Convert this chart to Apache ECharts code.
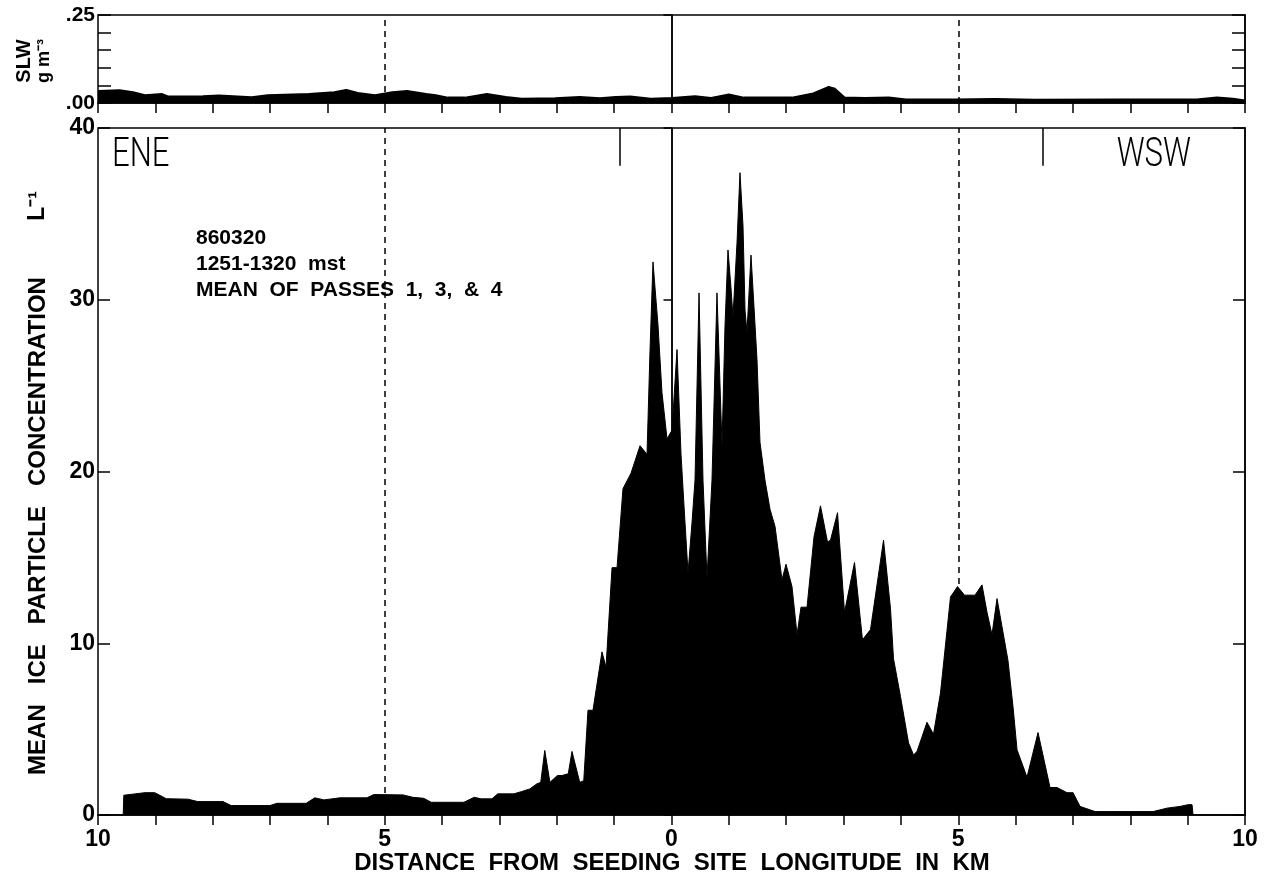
<!DOCTYPE html>
<html>
<head>
<meta charset="utf-8">
<script src="https://cdn.jsdelivr.net/npm/echarts@6/dist/echarts.min.js"></script>
<style>
  html, body { margin: 0; padding: 0; background: #fff; }
  #chart { width: 1266px; height: 880px; }
</style>
</head>
<body>
<div id="chart"></div>
<script>
// Distance from the seeding site (km, negative = ENE side) and mean ice particle concentration (per litre)
const iceKm = [-10, -9.56, -9.55, -9.18, -9.01, -8.81, -8.43, -8.26, -7.82, -7.68, -7.00, -6.88, -6.37, -6.22,
  -6.06, -5.78, -5.31, -5.19, -4.68, -4.51, -4.32, -4.19, -3.62, -3.44, -3.32, -3.13, -3.03, -2.75, -2.62,
  -2.47, -2.35, -2.28, -2.21, -2.12, -1.99, -1.91, -1.80, -1.735, -1.60, -1.53, -1.456, -1.369, -1.212,
  -1.142, -1.037, -0.950, -0.846, -0.706, -0.549, -0.427, -0.375, -0.323, -0.235, -0.166, -0.078, 0.009,
  0.096, 0.166, 0.218, 0.288, 0.357, 0.410, 0.480, 0.549, 0.619, 0.706, 0.793, 0.881, 0.933, 0.985, 1.037,
  1.072, 1.142, 1.194, 1.247, 1.282, 1.316, 1.386, 1.438, 1.491, 1.543, 1.630, 1.718, 1.805, 1.927, 1.997,
  2.101, 2.189, 2.258, 2.363, 2.485, 2.598, 2.720, 2.772, 2.895, 3.017, 3.191, 3.330, 3.470, 3.697, 3.819,
  3.871, 3.993, 4.133, 4.220, 4.281, 4.455, 4.568, 4.690, 4.865, 4.987, 5.109, 5.292, 5.414, 5.502, 5.588,
  5.676, 5.867, 5.955, 6.025, 6.199, 6.391, 6.600, 6.722, 6.897, 7.002, 7.124, 7.385, 7.647, 7.995, 8.397,
  8.641, 8.867, 9.007, 9.077, 9.094, 10];
const iceConc = [0, 0, 1.15, 1.3, 1.3, 0.95, 0.92, 0.78, 0.78, 0.55, 0.55, 0.68, 0.68, 1.0,
  0.88, 1.0, 1.0, 1.19, 1.17, 1.03, 0.97, 0.74, 0.74, 1.03, 0.94, 0.94, 1.23, 1.23, 1.36,
  1.52, 1.81, 1.9, 3.76, 1.9, 2.3, 2.3, 2.4, 3.7, 1.9, 2.0, 6.1, 6.1, 9.5,
  8.6, 14.4, 14.4, 19.0, 19.9, 21.5, 21.0, 27.0, 32.2, 28.5, 24.6, 21.9, 22.4,
  27.1, 21.0, 18.0, 14.1, 17.0, 19.5, 30.4, 19.5, 13.8, 19.5, 30.4, 21.5, 28.5, 32.9, 30.7,
  29.0, 33.3, 37.4, 34.3, 29.4, 28.1, 32.6, 29.6, 26.5, 21.7, 19.5, 17.8, 16.8, 13.7, 14.6,
  13.3, 10.5, 12.1, 12.1, 16.2, 18.0, 15.9, 16.0, 17.6, 11.8, 14.7, 10.2, 10.8, 16.0, 12.0,
  9.1, 6.9, 4.2, 3.5, 3.7, 5.4, 4.7, 7.1, 12.7, 13.3, 12.8, 12.8, 13.4, 11.8, 10.5,
  12.6, 9.0, 6.3, 3.8, 2.2, 4.8, 1.6, 1.6, 1.3, 1.3, 0.5, 0.2, 0.2, 0.2, 0.2,
  0.4, 0.5, 0.6, 0.6, 0, 0];

// Supercooled liquid water content (g m-3) along the same track
const slwKm = [-10.0, -9.62, -9.39, -9.18, -8.88, -8.78, -8.17, -7.89, -7.32, -7.04, -6.32, -5.88, -5.67,
  -5.47, -5.17, -4.87, -4.61, -4.39, -4.28, -4.11, -3.90, -3.60, -3.22, -2.89, -2.61, -2.03, -1.60, -1.25,
  -0.97, -0.72, -0.36, 0.01, 0.41, 0.69, 1.00, 1.26, 2.10, 2.47, 2.74, 2.85, 3.02, 3.37, 3.79, 4.09, 4.93,
  5.64, 6.34, 7.75, 9.16, 9.51, 9.79, 10.0];
const slwContent = [0.035, 0.037, 0.031, 0.023, 0.026, 0.019, 0.020, 0.022, 0.017, 0.023, 0.026, 0.031, 0.038,
  0.029, 0.023, 0.031, 0.035, 0.029, 0.026, 0.023, 0.016, 0.016, 0.026, 0.018, 0.013, 0.014, 0.018, 0.014,
  0.018, 0.019, 0.013, 0.015, 0.020, 0.015, 0.025, 0.016, 0.016, 0.028, 0.046, 0.041, 0.016, 0.015, 0.016,
  0.011, 0.011, 0.012, 0.010, 0.011, 0.011, 0.016, 0.013, 0.008];

// Axis tick labels
const kmTickValues = [-10, -5, 0, 5, 10];
const kmTickLabels = ['10', '5', '0', '5', '10'];
const slwTickValues = [0, 0.25];
const slwTickLabels = ['.00', '.25'];

// Short flight-track markers hanging from the top frame (km)
const trackMarks = [-0.9, 6.47];

const icePairs = iceKm.map((x, i) => [x, iceConc[i]]);
const slwPairs = slwKm.map((x, i) => [x, slwContent[i]]);

const FONT = '"Liberation Sans", Arial, Helvetica, sans-serif';
const BLACK = '#000';

function kmLabel(v) {
  const i = kmTickValues.findIndex(t => Math.abs(t - v) < 1e-6);
  return i >= 0 ? kmTickLabels[i] : '';
}
function slwLabel(v) {
  const i = slwTickValues.findIndex(t => Math.abs(t - v) < 1e-6);
  return i >= 0 ? slwTickLabels[i] : '';
}

const axisLineStyle = { show: true, lineStyle: { color: BLACK, width: 1.5 } };
const boldLabel = { color: BLACK, fontFamily: FONT, fontWeight: 'bold' };

function verticalRefs(topValue, markLength) {
  const data = [
    { xAxis: 0, lineStyle: { type: 'solid', width: 1.5 } },
    { xAxis: -5, lineStyle: { type: [6, 5], width: 1.5 } },
    { xAxis: 5, lineStyle: { type: [6, 5], width: 1.5 } }
  ];
  if (markLength) {
    trackMarks.forEach(m => data.push([
      { coord: [m, topValue], lineStyle: { type: 'solid', width: 1.5 } },
      { coord: [m, topValue - markLength] }
    ]));
  }
  return {
    silent: true,
    symbol: ['none', 'none'],
    label: { show: false },
    lineStyle: { color: BLACK },
    animation: false,
    data: data
  };
}

const chart = echarts.init(document.getElementById('chart'), null, { renderer: 'canvas' });

chart.setOption({
  animation: false,
  backgroundColor: '#fff',
  grid: [
    { left: 98, right: 21, top: 15, height: 88, show: true, borderColor: BLACK, borderWidth: 1.5,
      containLabel: false, outerBoundsMode: 'none' },
    { left: 98, right: 21, top: 128, height: 687, show: true, borderColor: BLACK, borderWidth: 1.5,
      containLabel: false, outerBoundsMode: 'none' }
  ],
  xAxis: [
    {
      gridIndex: 0, type: 'value', min: -10, max: 10, interval: 1,
      axisLine: axisLineStyle,
      axisTick: { show: true, inside: false, length: 10, lineStyle: { color: BLACK, width: 1.5 } },
      axisLabel: { show: false },
      splitLine: { show: false }
    },
    {
      gridIndex: 1, type: 'value', min: -10, max: 10, interval: 1,
      axisLine: axisLineStyle,
      axisTick: { show: true, inside: false, length: 10, lineStyle: { color: BLACK, width: 1.5 } },
      axisLabel: Object.assign({ show: true, fontSize: 23, margin: 13, formatter: kmLabel }, boldLabel),
      splitLine: { show: false }
    }
  ],
  yAxis: [
    {
      gridIndex: 0, type: 'value', position: 'left', min: 0, max: 0.25, interval: 0.25,
      axisLine: axisLineStyle,
      axisTick: { show: true, inside: false, length: 8, lineStyle: { color: BLACK, width: 1.5 } },
      axisLabel: Object.assign({ show: true, fontSize: 21, margin: 3, formatter: slwLabel }, boldLabel),
      splitLine: { show: false }
    },
    {
      gridIndex: 0, type: 'value', position: 'left', min: 0, max: 0.25, interval: 0.05,
      axisLine: { show: false },
      axisTick: { show: true, inside: true, length: 13, lineStyle: { color: BLACK, width: 1.5 } },
      axisLabel: { show: false },
      splitLine: { show: false }
    },
    {
      gridIndex: 0, type: 'value', position: 'right', min: 0, max: 0.25, interval: 0.05,
      axisLine: axisLineStyle,
      axisTick: { show: true, inside: true, length: 13, lineStyle: { color: BLACK, width: 1.5 } },
      axisLabel: { show: false },
      splitLine: { show: false }
    },
    {
      gridIndex: 1, type: 'value', position: 'left', min: 0, max: 40, interval: 10,
      axisLine: axisLineStyle,
      axisTick: { show: true, inside: false, length: 8, lineStyle: { color: BLACK, width: 1.5 } },
      axisLabel: Object.assign({ show: true, fontSize: 23, margin: 3 }, boldLabel),
      splitLine: { show: false }
    },
    {
      gridIndex: 1, type: 'value', position: 'left', min: 0, max: 40, interval: 10,
      axisLine: { show: false },
      axisTick: { show: true, inside: true, length: 12, lineStyle: { color: BLACK, width: 1.5 } },
      axisLabel: { show: false },
      splitLine: { show: false }
    },
    {
      gridIndex: 1, type: 'value', position: 'right', min: 0, max: 40, interval: 10,
      axisLine: axisLineStyle,
      axisTick: { show: true, inside: true, length: 12, lineStyle: { color: BLACK, width: 1.5 } },
      axisLabel: { show: false },
      splitLine: { show: false }
    }
  ],
  series: [
    {
      name: 'SLW',
      type: 'line', xAxisIndex: 0, yAxisIndex: 0,
      data: slwPairs,
      symbol: 'none', smooth: false,
      lineStyle: { color: BLACK, width: 1.5 },
      areaStyle: { color: BLACK, opacity: 1 },
      markLine: verticalRefs(0.25, 0),
      z: 3
    },
    {
      name: 'Ice particle concentration',
      type: 'line', xAxisIndex: 1, yAxisIndex: 3,
      data: icePairs,
      symbol: 'none', smooth: false,
      lineStyle: { color: BLACK, width: 1 },
      areaStyle: { color: BLACK, opacity: 1 },
      markLine: verticalRefs(40, 2.2),
      z: 3
    }
  ],
  graphic: [
    {
      type: 'text', x: 24, y: 61, rotation: Math.PI / 2,
      style: { text: 'SLW', fill: BLACK, font: 'bold 20px ' + FONT, textAlign: 'center', textVerticalAlign: 'middle' }
    },
    {
      type: 'text', x: 44, y: 61, rotation: Math.PI / 2,
      style: { text: 'g m\u207B\u00B3', fill: BLACK, font: 'bold 18px ' + FONT, textAlign: 'center', textVerticalAlign: 'middle' }
    },
    {
      type: 'text', x: 38, y: 526, rotation: Math.PI / 2,
      style: { text: 'MEAN   ICE   PARTICLE   CONCENTRATION', fill: BLACK, font: 'bold 24px ' + FONT,
        textAlign: 'center', textVerticalAlign: 'middle' }
    },
    {
      type: 'text', x: 38, y: 206, rotation: Math.PI / 2,
      style: { text: 'L\u207B\u00B9', fill: BLACK, font: 'bold 23px ' + FONT, textAlign: 'center', textVerticalAlign: 'middle' }
    },
    {
      type: 'text', x: 672, y: 863,
      style: { text: 'DISTANCE  FROM  SEEDING  SITE  LONGITUDE  IN  KM', fill: BLACK, font: 'bold 24px ' + FONT,
        textAlign: 'center', textVerticalAlign: 'middle' }
    },
    {
      type: 'text', x: 196, y: 225,
      style: { text: '860320\n1251-1320  mst\nMEAN  OF  PASSES  1,  3,  &  4', fill: BLACK, font: 'bold 21px ' + FONT,
        lineHeight: 26, textAlign: 'left', textVerticalAlign: 'top' }
    },
    {
      type: 'text', x: 112, y: 156, scaleX: 0.76,
      style: { text: 'ENE', fill: BLACK, font: '300 41px Roboto, "DejaVu Sans", sans-serif', textAlign: 'left', textVerticalAlign: 'middle' }
    },
    {
      type: 'text', x: 1191, y: 156, scaleX: 0.76,
      style: { text: 'WSW', fill: BLACK, font: '300 41px Roboto, "DejaVu Sans", sans-serif', textAlign: 'right', textVerticalAlign: 'middle' }
    }
  ]
});
</script>
</body>
</html>
